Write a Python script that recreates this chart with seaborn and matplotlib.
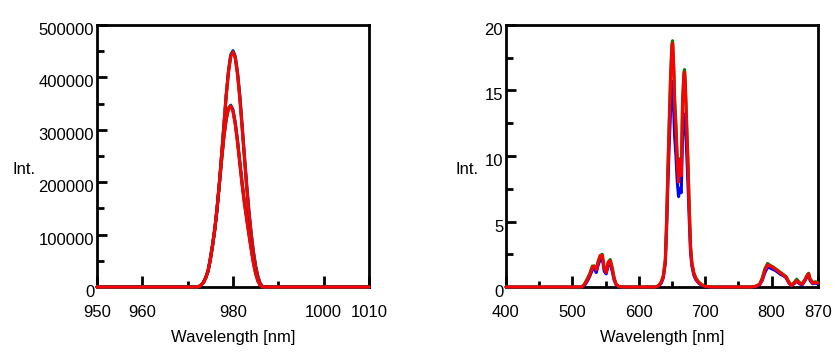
import numpy as np
import pandas as pd
import seaborn as sns
import matplotlib.pyplot as plt
import matplotlib.transforms as mtransforms

# ---- left panel: 980 nm laser line (two measurements, three channels each)
wl_left = [950.0] + list(np.arange(972.0, 987.01, 0.5)) + [1010.0]

upper_red = [0, 0, 1000, 4000, 9000, 18000, 31000, 55000, 82000, 112000, 152000,
             200000, 255000, 310000, 365000, 410000, 440000, 448000, 437000, 405000,
             360000, 305000, 248000, 192000, 142000, 100000, 65000, 38000, 18000,
             6000, 1000, 0, 0]
upper_blue = [0, 0, 1000, 4000, 9000, 18000, 31000, 54000, 80000, 111000, 150000,
              198000, 253000, 309000, 366000, 412000, 443000, 451000, 440000, 410000,
              366000, 311000, 253000, 198000, 147000, 104000, 68000, 40000, 20000,
              7000, 1500, 0, 0]
upper_green = [0, 0, 1000, 4000, 9000, 18000, 31000, 55000, 81000, 112000, 151000,
               199000, 254000, 310000, 366000, 411000, 442000, 449000, 438000, 407000,
               362000, 307000, 250000, 194000, 144000, 102000, 66000, 39000, 19000,
               6000, 1000, 0, 0]

lower_red = [0, 0, 1000, 4000, 9000, 18000, 31000, 52000, 80000, 112000, 152000,
             198000, 245000, 288000, 320000, 340000, 345000, 335000, 310000, 275000,
             235000, 195000, 160000, 130000, 100000, 72000, 45000, 25000, 11000,
             3000, 500, 0, 0]
lower_blue = [0, 0, 1000, 4000, 9000, 18000, 30000, 51000, 79000, 110000, 150000,
              196000, 243000, 287000, 320000, 341000, 347000, 338000, 314000, 280000,
              240000, 200000, 165000, 134000, 104000, 75000, 48000, 27000, 12000,
              3500, 600, 0, 0]
lower_green = [0, 0, 1000, 4000, 9000, 18000, 31000, 52000, 80000, 111000, 151000,
               197000, 244000, 288000, 321000, 342000, 346000, 336000, 312000, 278000,
               238000, 198000, 163000, 132000, 102000, 74000, 47000, 26000, 11500,
               3200, 500, 0, 0]

# ---- right panel: visible / NIR emission spectrum
wl_right = [400, 514, 518, 522, 526, 530, 533, 536, 539, 542, 545, 548, 551, 554,
            557, 560, 563, 566, 570, 575, 625, 630, 634, 637, 640, 642, 644, 646,
            648, 650, 651, 652, 653, 654, 656, 658, 660, 662, 664, 666, 668, 669,
            670, 672, 674, 676, 678, 680, 683, 686, 690, 695, 700, 710, 770, 776,
            782, 786, 790, 794, 798, 802, 806, 810, 814, 818, 822, 826, 830, 834,
            838, 842, 846, 850, 854, 856, 858, 862, 866, 870]

spec_red = [0, 0, 0.2, 0.5, 0.9, 1.5, 1.6, 1.3, 1.9, 2.4, 2.4, 1.4, 1.1, 1.9,
            2.0, 1.4, 0.6, 0.2, 0.05, 0, 0, 0.1, 0.4, 0.8, 2.0, 5.0, 9.0, 12.5,
            16.0, 18.4, 18.6, 17.5, 16.0, 14.0, 12.0, 9.5, 8.0, 9.7, 8.5, 14.0, 16.2, 16.4,
            15.5, 12.5, 9.5, 6.0, 3.0, 1.8, 1.0, 0.6, 0.35, 0.15, 0.05, 0, 0, 0.05,
            0.2, 0.6, 1.3, 1.7, 1.6, 1.5, 1.35, 1.2, 1.05, 0.9, 0.75, 0.35, 0.1, 0.3,
            0.5, 0.3, 0.2, 0.5, 0.9, 1.0, 0.6, 0.3, 0.35, 0.3]
spec_blue = [0, 0, 0.1, 0.4, 0.8, 1.3, 1.4, 1.1, 1.7, 2.1, 2.2, 1.2, 1.0, 1.7,
             1.8, 1.2, 0.5, 0.15, 0.03, 0, 0, 0.08, 0.3, 0.7, 1.8, 4.5, 8.0, 11.0,
             13.5, 15.5, 15.7, 14.5, 13.0, 11.5, 10.0, 8.0, 6.9, 7.5, 7.2, 11.5, 13.0, 13.2,
             12.5, 10.5, 8.0, 5.2, 2.6, 1.6, 0.9, 0.55, 0.3, 0.12, 0.04, 0, 0, 0.04,
             0.15, 0.5, 1.1, 1.5, 1.45, 1.35, 1.25, 1.1, 0.95, 0.85, 0.7, 0.3, 0.1, 0.25,
             0.45, 0.25, 0.15, 0.45, 0.8, 0.9, 0.5, 0.25, 0.3, 0.25]
spec_green = [0, 0, 0.2, 0.6, 1.0, 1.6, 1.6, 1.4, 2.0, 2.4, 2.5, 1.5, 1.2, 1.9,
              2.1, 1.5, 0.7, 0.2, 0.05, 0, 0, 0.1, 0.4, 0.9, 2.1, 5.2, 9.3, 13.0,
              16.3, 18.6, 18.8, 17.8, 16.5, 14.5, 12.5, 9.9, 8.4, 9.8, 8.9, 14.3, 16.4, 16.6,
              15.8, 12.8, 9.8, 6.3, 3.2, 1.9, 1.1, 0.7, 0.4, 0.18, 0.06, 0, 0, 0.05,
              0.2, 0.7, 1.4, 1.8, 1.65, 1.55, 1.4, 1.25, 1.1, 0.95, 0.8, 0.4, 0.15, 0.35,
              0.6, 0.35, 0.25, 0.55, 0.95, 1.05, 0.65, 0.35, 0.4, 0.35]

sns.set_style("white")
plt.rcParams['font.family'] = ['Liberation Sans', 'DejaVu Sans']
plt.rcParams['font.size'] = 12
plt.rcParams['text.color'] = 'black'
plt.rcParams['axes.labelcolor'] = 'black'
plt.rcParams['xtick.color'] = 'black'
plt.rcParams['ytick.color'] = 'black'

fig = plt.figure(figsize=(8.4, 3.54), dpi=100)
ax1 = fig.add_axes([97/840, 1 - 287/354, 272/840, 262/354])
ax2 = fig.add_axes([506/840, 1 - 287/354, 312/840, 262/354])

line_kw = dict(estimator=None, clip_on=False, linewidth=2.2)

for y, c in [(upper_blue, '#0000ff'), (upper_green, '#008000'), (upper_red, '#ff0000'),
             (lower_blue, '#0000ff'), (lower_green, '#008000'), (lower_red, '#ff0000')]:
    sns.lineplot(x=wl_left, y=y, color=c, ax=ax1, zorder=3, **line_kw)

for y, c in [(spec_blue, '#0000ff'), (spec_green, '#008000'), (spec_red, '#ff0000')]:
    sns.lineplot(x=wl_right, y=y, color=c, ax=ax2, zorder=3, **line_kw)

ax1.set_xlim(950, 1010)
ax1.set_ylim(0, 500000)
ax1.set_xticks([950, 960, 980, 1000, 1010])
ax1.set_xticks([970, 990], minor=True)
ax1.set_yticks(np.arange(0, 500001, 100000))
ax1.set_yticks(np.arange(50000, 500000, 100000), minor=True)
ax1.set_yticklabels([str(v) for v in range(0, 500001, 100000)])

ax2.set_xlim(400, 870)
ax2.set_ylim(0, 20)
ax2.set_xticks([400, 500, 600, 700, 800, 870])
ax2.set_xticks([450, 550, 650, 750], minor=True)
ax2.set_yticks([0, 5, 10, 15, 20])
ax2.set_yticks([2.5, 7.5, 12.5, 17.5], minor=True)

offset = mtransforms.ScaledTranslation(0, -4/100, fig.dpi_scale_trans)
for ax in (ax1, ax2):
    for s in ax.spines.values():
        s.set_visible(True)
        s.set_color('black')
        s.set_linewidth(2.0)
    ax.tick_params(which='both', direction='in', color='black', width=2.0,
                   top=False, right=False, bottom=True, left=True,
                   labelsize=12, labelcolor='black')
    ax.tick_params(axis='x', which='major', length=8, pad=13)
    ax.tick_params(axis='x', which='minor', length=4)
    ax.tick_params(axis='y', which='major', length=7, pad=2)
    ax.tick_params(axis='y', which='minor', length=5)
    for lbl in ax.get_yticklabels():
        lbl.set_transform(lbl.get_transform() + offset)
    ax.set_xlabel('Wavelength [nm]', fontsize=12, labelpad=7, color='black')
    ax.set_ylabel('')
    ax.grid(False)

fig.text(24/840, 1 - 170/354, 'Int.', ha='center', va='center', fontsize=12, color='black')
fig.text(467/840, 1 - 170/354, 'Int.', ha='center', va='center', fontsize=12, color='black')

fig.savefig('out.png', dpi=100)
